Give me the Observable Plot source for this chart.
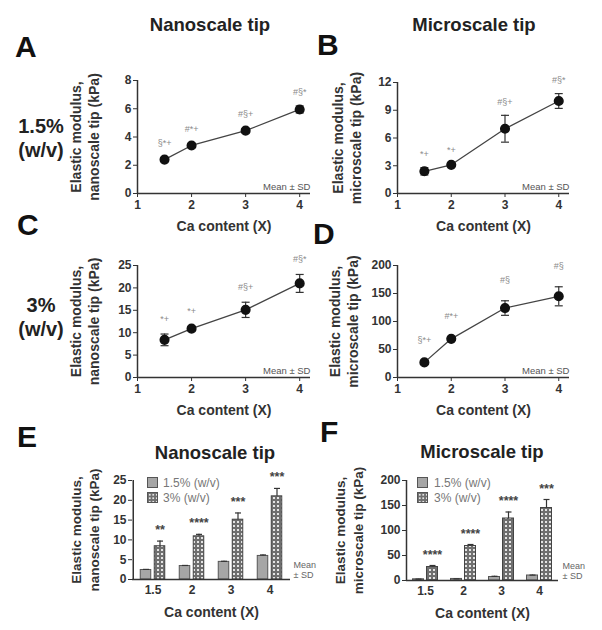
<!DOCTYPE html>
<html><head><meta charset="utf-8">
<script src="https://cdn.jsdelivr.net/npm/d3@7"></script>
<script src="https://cdn.jsdelivr.net/npm/@observablehq/plot@0.6"></script>
<style>
body{margin:0;background:#fff;}
#fig{position:relative;width:602px;height:630px;overflow:hidden;background:#fff;font-family:"Liberation Sans",Arial,Helvetica,sans-serif;}
</style></head><body><div id="fig"></div><script>
// ---- data ----
const caContent = [1.5, 2, 3, 4];
const caTicks = [1, 2, 3, 4];
const catLabels = ["1.5", "2", "3", "4"];
const groups = ["1.5% (w/v)", "3% (w/v)"];
const nano15Mean = [2.4, 3.4, 4.45, 5.95];
const nano15SD = [0.15, 0.15, 0.15, 0.25];
const micro15Mean = [2.4, 3.1, 7.0, 10.0];
const micro15SD = [0.4, 0.2, 1.45, 0.8];
const nano3Mean = [8.4, 10.9, 15.1, 21.0];
const nano3SD = [1.3, 0.5, 1.7, 2.0];
const micro3Mean = [27, 69, 124, 145];
const micro3SD = [3, 3, 13, 17];
const sigA = ["§*+", "#*+", "#§+", "#§*"];
const sigB = ["*+", "*+", "#§+", "#§*"];
const sigC = ["*+", "*+", "#§+", "#§*"];
const sigD = ["§*+", "#*+", "#§", "#§"];
const starsE = ["**", "****", "***", "***"];
const starsF = ["****", "****", "****", "***"];
const ticksA = [0, 2, 4, 6, 8];
const ticksB = [0, 3, 6, 9, 12];
const ticksC = [0, 5, 10, 15, 20, 25];
const ticksD = [0, 50, 100, 150, 200];
const ticksE = [0, 5, 10, 15, 20, 25];
const ticksF = [0, 50, 100, 150, 200];
const yLabelNano = "Elastic modulus,\nnanoscale tip (kPa)";
const yLabelMicro = "Elastic modulus,\nmicroscale tip (kPa)";
const xTitle = "Ca content (X)";
const meanSD = "Mean ± SD";
const meanSD2 = "Mean\n± SD";

const FONT = '"Liberation Sans", Arial, Helvetica, sans-serif';
const fig = document.getElementById("fig");

function addText(txt, left, top, css) {
  const d = document.createElement("div");
  d.textContent = txt;
  Object.assign(d.style, {position: "absolute", left: left + "px", top: top + "px", whiteSpace: "pre",
    lineHeight: "1", fontFamily: FONT, fontWeight: "bold", color: "#1a1a1a"}, css || {});
  fig.appendChild(d);
  return d;
}
function placeSvg(svg, left, top) {
  svg.style.position = "absolute";
  svg.style.left = left + "px";
  svg.style.top = top + "px";
  svg.style.maxWidth = "none";
  fig.appendChild(svg);
}
const capSymbol = {draw(ctx, size) { const w = Math.sqrt(size / Math.PI); ctx.moveTo(-w, 0); ctx.lineTo(w, 0); }};

const baseStyle = {fontFamily: FONT, fontSize: "12px", fontWeight: "bold", color: "#333", background: "transparent", overflow: "visible"};

function linePanel(cfg) {
  const data = caContent.map((x, i) => ({x, m: cfg.mean[i], lo: cfg.mean[i] - cfg.sd[i], hi: cfg.mean[i] + cfg.sd[i], sig: cfg.sig[i]}));
  const svg = Plot.plot({
    width: cfg.width, height: cfg.height,
    marginLeft: cfg.mL, marginRight: cfg.mR, marginTop: cfg.mT, marginBottom: cfg.mB,
    style: baseStyle,
    x: {domain: [1, 4.2]},
    y: {domain: [0, cfg.yMax]},
    marks: [
      Plot.axisX(caTicks, {tickSize: 4, tickPadding: 3, label: null, fontSize: 12}),
      Plot.axisY(cfg.yTicks, {tickSize: 4, tickPadding: 2, label: null, fontSize: 12}),
      Plot.ruleY([0], {stroke: "#333", strokeWidth: 1.5}),
      Plot.ruleX([1], {stroke: "#333", strokeWidth: 1.5}),
      Plot.line(data, {x: "x", y: "m", stroke: "#444", strokeWidth: 1.3}),
      Plot.ruleX(data, {x: "x", y1: "lo", y2: "hi", stroke: "#333", strokeWidth: 1.2}),
      Plot.dot(data, {x: "x", y: "lo", symbol: capSymbol, r: 4, fill: "none", stroke: "#333", strokeWidth: 1.2}),
      Plot.dot(data, {x: "x", y: "hi", symbol: capSymbol, r: 4, fill: "none", stroke: "#333", strokeWidth: 1.2}),
      Plot.dot(data, {x: "x", y: "m", r: 4.3, fill: "#111", stroke: "#111"}),
      Plot.text(data, {x: "x", y: "hi", text: "sig", dy: cfg.sigDy, fontSize: 9, fontWeight: "normal", fill: "#8a8a8a"}),
      Plot.text([meanSD], {text: d => d, frameAnchor: "bottom-right", textAnchor: "end", lineAnchor: "bottom", dy: -4, fontSize: 9.5, fontWeight: "normal", fill: "#555"}),
      Plot.text([cfg.yLabel], {text: d => d, frameAnchor: "left", textAnchor: "middle", lineAnchor: "middle", rotate: -90, dx: cfg.yLabelDx, fontSize: 14, lineHeight: 1.3, fill: "#333"}),
      Plot.text([xTitle], {text: d => d, frameAnchor: "bottom", textAnchor: "middle", lineAnchor: "top", dy: 28, fontSize: 14, fill: "#333"})
    ]
  });
  placeSvg(svg, cfg.left, cfg.top);
}

function barPanel(cfg) {
  const b = (cfg.width - cfg.mL - cfg.mR) / catLabels.length;
  const gap = 3, bw = 11;
  const off = gap / 2 + bw / 2;
  const inA = b / 2 - gap / 2 - bw, inB = b / 2 + gap / 2;
  const rows15 = catLabels.map((c, i) => ({c, v: cfg.m15[i], hi: cfg.m15[i] + cfg.s15[i]}));
  const rows3 = catLabels.map((c, i) => ({c, v: cfg.m3[i], hi: cfg.m3[i] + cfg.s3[i], star: cfg.stars[i]}));
  const svg = Plot.plot({
    width: cfg.width, height: cfg.height,
    marginLeft: cfg.mL, marginRight: cfg.mR, marginTop: cfg.mT, marginBottom: cfg.mB,
    style: baseStyle,
    x: {domain: catLabels, padding: 0},
    y: {domain: [0, cfg.yMax]},
    marks: [
      Plot.axisX({tickSize: 0, tickPadding: 6, label: null, fontSize: 12}),
      Plot.axisY(cfg.yTicks, {tickSize: 4, tickPadding: 2, label: null, fontSize: 12}),
      Plot.barY(rows15, {x: "c", y: "v", fill: "#a6a6a6", stroke: "#555", strokeWidth: 1, insetLeft: inA, insetRight: inB}),
      Plot.barY(rows3, {x: "c", y: "v", fill: `url(#${cfg.pid})`, stroke: "#444", strokeWidth: 1, insetLeft: inB, insetRight: inA}),
      Plot.ruleX(rows15, {x: "c", y1: "v", y2: "hi", dx: -off, stroke: "#333", strokeWidth: 1.2}),
      Plot.ruleX(rows3, {x: "c", y1: "v", y2: "hi", dx: off, stroke: "#333", strokeWidth: 1.2}),
      Plot.dot(rows15, {x: "c", y: "hi", dx: -off, symbol: capSymbol, r: 3, fill: "none", stroke: "#333", strokeWidth: 1.2}),
      Plot.dot(rows3, {x: "c", y: "hi", dx: off, symbol: capSymbol, r: 3, fill: "none", stroke: "#333", strokeWidth: 1.2}),
      Plot.text(rows3, {x: "c", y: "hi", text: "star", dx: off, dy: -11, fontSize: 12.5, fill: "#444"}),
      Plot.ruleY([0], {stroke: "#333", strokeWidth: 1.5}),
      Plot.ruleX([catLabels[0]], {dx: -b / 2, stroke: "#333", strokeWidth: 1.5}),
      Plot.text([meanSD2], {text: d => d, frameAnchor: "bottom-right", textAnchor: "start", lineAnchor: "bottom", dx: cfg.msDx, dy: -2, fontSize: 9, lineHeight: 1.1, fontWeight: "normal", fill: "#666"}),
      Plot.text([cfg.yLabel], {text: d => d, frameAnchor: "left", textAnchor: "middle", lineAnchor: "middle", rotate: -90, dx: cfg.yLabelDx, fontSize: 13.5, lineHeight: 1.3, fill: "#333"}),
      Plot.text([xTitle], {text: d => d, frameAnchor: "bottom", textAnchor: "middle", lineAnchor: "top", dy: 28, fontSize: 14, fill: "#333"})
    ]
  });
  const defs = d3.select(svg).insert("defs", ":first-child");
  const pat = defs.append("pattern").attr("id", cfg.pid).attr("patternUnits", "userSpaceOnUse").attr("width", 4).attr("height", 4);
  pat.append("rect").attr("width", 4).attr("height", 4).attr("fill", "#6f6f6f");
  pat.append("rect").attr("x", 1).attr("y", 1).attr("width", 2).attr("height", 2).attr("fill", "#e4e4e4");
  placeSvg(svg, cfg.left, cfg.top);
  // legend
  const sw = (top, css) => {
    const s = document.createElement("div");
    Object.assign(s.style, {position: "absolute", left: cfg.legX + "px", top: top + "px", width: "9px", height: "9px", border: "1px solid #555"}, css);
    fig.appendChild(s);
  };
  sw(cfg.legY, {background: "#a6a6a6"});
  sw(cfg.legY + 15, {backgroundColor: "#6f6f6f", backgroundImage: "radial-gradient(#e4e4e4 40%, transparent 45%)", backgroundSize: "3.5px 3.5px"});
  addText(groups[0], cfg.legX + cfg.legTx, cfg.legY, {fontWeight: "normal", fontSize: "12px", color: "#777"});
  addText(groups[1], cfg.legX + cfg.legTx, cfg.legY + 15, {fontWeight: "normal", fontSize: "12px", color: "#777"});
}

// ---- panels ----
linePanel({left: 0, top: 60, width: 320, height: 180, mL: 137, mR: 10, mT: 20, mB: 47,
  yMax: 8, yTicks: ticksA, mean: nano15Mean, sd: nano15SD, sig: sigA, sigDy: -14, yLabel: yLabelNano, yLabelDx: -53});
linePanel({left: 300, top: 60, width: 302, height: 180, mL: 97, mR: 33, mT: 22, mB: 47,
  yMax: 12, yTicks: ticksB, mean: micro15Mean, sd: micro15SD, sig: sigB, sigDy: -13, yLabel: yLabelMicro, yLabelDx: -51});
linePanel({left: 0, top: 240, width: 320, height: 180, mL: 137, mR: 10, mT: 25, mB: 43,
  yMax: 25, yTicks: ticksC, mean: nano3Mean, sd: nano3SD, sig: sigC, sigDy: -15, yLabel: yLabelNano, yLabelDx: -53});
linePanel({left: 300, top: 240, width: 302, height: 180, mL: 97, mR: 33, mT: 25, mB: 43,
  yMax: 200, yTicks: ticksD, mean: micro3Mean, sd: micro3SD, sig: sigD, sigDy: -21, yLabel: yLabelMicro, yLabelDx: -54});
barPanel({left: 0, top: 440, width: 320, height: 190, mL: 132, mR: 30, mT: 40, mB: 51,
  yMax: 25, yTicks: ticksE, m15: nano15Mean, s15: nano15SD, m3: nano3Mean, s3: nano3SD, stars: starsE,
  pid: "dotsE", yLabel: yLabelNano, yLabelDx: -48, msDx: 3, legX: 147, legY: 477, legTx: 16});
barPanel({left: 300, top: 440, width: 302, height: 190, mL: 106, mR: 44, mT: 40, mB: 50,
  yMax: 200, yTicks: ticksF, m15: micro15Mean, s15: micro15SD, m3: micro3Mean, s3: micro3SD, stars: starsF,
  pid: "dotsF", yLabel: yLabelMicro, yLabelDx: -58, msDx: 4, legX: 417, legY: 477, legTx: 17});

// ---- titles, letters, row labels ----
addText("A", 15, 32, {fontSize: "30px", color: "#111"});
addText("B", 317, 30, {fontSize: "30px", color: "#111"});
addText("C", 17, 210, {fontSize: "30px", color: "#111"});
addText("D", 313, 219, {fontSize: "30px", color: "#111"});
addText("E", 17, 422, {fontSize: "30px", color: "#111"});
addText("F", 320, 417, {fontSize: "30px", color: "#111"});
addText("Nanoscale tip", 110, 16, {fontSize: "18.5px", width: "200px", textAlign: "center", color: "#222"});
addText("Microscale tip", 374, 16, {fontSize: "18.5px", width: "200px", textAlign: "center", color: "#222"});
addText("Nanoscale tip", 115, 444, {fontSize: "18.5px", width: "200px", textAlign: "center", color: "#222"});
addText("Microscale tip", 382, 443, {fontSize: "18.5px", width: "200px", textAlign: "center", color: "#222"});
addText("1.5%\n(w/v)", 1, 114, {fontSize: "20px", lineHeight: "24px", width: "80px", textAlign: "center", color: "#222"});
addText("3%\n(w/v)", 1, 293, {fontSize: "20px", lineHeight: "24px", width: "80px", textAlign: "center", color: "#222"});
</script></body></html>
